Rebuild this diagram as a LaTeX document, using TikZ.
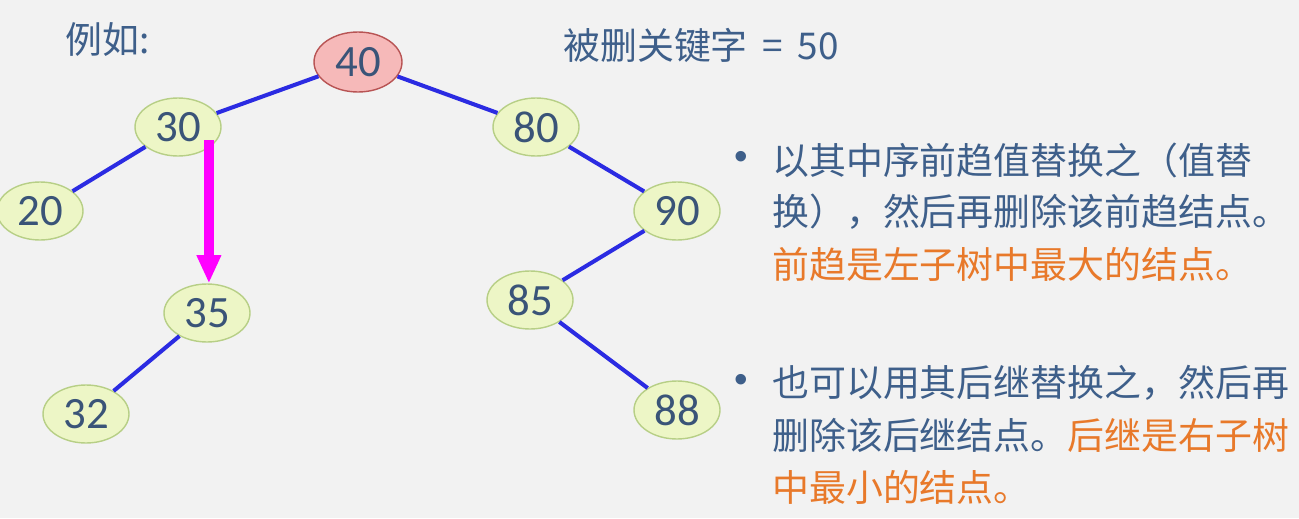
\documentclass[tikz,border=0pt]{standalone}
\usepackage{fontspec}
\setmainfont{Noto Sans CJK SC}
\newfontfamily\numfont{Carlito}
\newfontfamily\dotfont{Liberation Sans}
\usetikzlibrary{positioning,arrows.meta,shapes}
\definecolor{bgcol}{HTML}{F2F2F2}
\definecolor{keyfill}{HTML}{EDF6C6}
\definecolor{keyline}{HTML}{B7CF86}
\definecolor{rootfill}{HTML}{F6B9B9}
\definecolor{rootline}{HTML}{B85454}
\definecolor{numcol}{HTML}{3A5478}
\definecolor{edgecol}{HTML}{2B2BE2}
\definecolor{movecol}{HTML}{FF00FF}
\definecolor{txtcol}{HTML}{3E5F8A}
\definecolor{hicol}{HTML}{E8792A}
\tikzset{
  key/.style={ellipse, draw=keyline, fill=keyfill, line width=0.8pt,
    minimum width=1.72cm, minimum height=1.16cm, inner sep=0pt,
    font=\numfont\fontsize{25.5}{25.5}\selectfont, text=numcol},
  root/.style={key, draw=rootline, fill=rootfill, minimum width=1.76cm, minimum height=1.2cm},
  edge/.style={draw=edgecol, line width=2.3pt},
  move/.style={draw=movecol, line width=6pt, -{Triangle[width=13pt,length=16pt]}},
  txt/.style={anchor=west, inner sep=0pt, font=\fontsize{21}{21}\selectfont, text=txtcol},
  dot/.style={inner sep=0pt, font=\dotfont\fontsize{22}{22}\selectfont, text=txtcol}
}
\begin{document}
\begin{tikzpicture}[x=0.02cm, y=-0.02cm, node distance=1.04cm]
    \fill[bgcol] (0,0) rectangle (1299,518);
    \useasboundingbox (0,0) rectangle (1299,518);

    % tree
    \node[root] (n40) at (358,62) {40};
    \node[key] (n30) at (178,127) {30};
    \node[key] (n20) at (40,211) {20};
    \node[key] (n35) at (207,313) {35};
    \node[key] (n32) at (86,414) {32};
    \node[key] (n80) at (536,127) {80};
    \node[key] (n90) at (677,211) {90};
    \node[key] (n85) at (530,300) {85};
    \node[key] (n88) at (677,410) {88};

    \draw[edge] (n40) -- (n30);
    \draw[edge] (n40) -- (n80);
    \draw[edge] (n30) -- (n20);
    \draw[edge] (n35) -- (n32);
    \draw[edge] (n80) -- (n90);
    \draw[edge] (n90) -- (n85);
    \draw[edge] (n85) -- (n88);

    \coordinate (mv) at ([yshift=0.16cm]n30.south east);
    \draw[move] (mv) -- (mv |- n35.north);

    % texts
    \node[txt] (eg) at (65,40) {例如:};
    \node[txt] (del) at (563,45) {被删关键字\hspace{0.4em}=\hspace{0.4em}50};

    \node[txt] (a1) at (772,160) {以其中序前趋值替换之（值替};
    \node[txt, below=of a1.west, anchor=west] (a2) {换），然后再删除该前趋结点。};
    \node[txt, below=of a2.west, anchor=west, text=hicol] (a3) {前趋是左子树中最大的结点。};
    \node[dot] (b1) at (741,160) {•};

    \node[txt] (c1) at (772,383) {也可以用其后继替换之，然后再};
    \node[txt, below=of c1.west, anchor=west] (c2) {删除该后继结点。\textcolor{hicol}{后继是右子树}};
    \node[txt, below=of c2.west, anchor=west, text=hicol] (c3) {中最小的结点。};
    \node[dot] (b2) at (741,383) {•};
\end{tikzpicture}
\end{document}
